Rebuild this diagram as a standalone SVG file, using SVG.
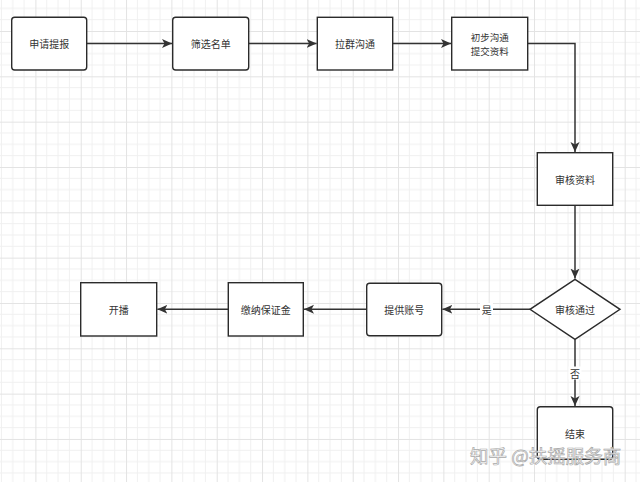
<svg xmlns="http://www.w3.org/2000/svg" width="640" height="482" viewBox="0 0 640 482">
<defs>
<pattern id="grid" patternUnits="userSpaceOnUse" x="35.4" y="31" width="45.33" height="45.33">
<path d="M11.33 0V45.33M22.67 0V45.33M34 0V45.33M0 11.33H45.33M0 22.67H45.33M0 34H45.33" stroke="#f0f0f0" stroke-width="1" fill="none"/>
<path d="M0.5 0V45.33M0 0.5H45.33" stroke="#e3e3e3" stroke-width="1" fill="none"/>
</pattern>
<marker id="arr" markerUnits="userSpaceOnUse" markerWidth="12" markerHeight="10" refX="10" refY="4.5" orient="auto">
<path d="M0,0 L10,4.5 L0,9 L2.5,4.5 Z" fill="#333"/>
</marker>
</defs>
<style>
.box{fill:#fff;stroke:#2b2b2b;stroke-width:1.4}
.t{font-family:"Noto Sans CJK SC","Noto Sans",sans-serif;font-size:10px;fill:#333;text-anchor:middle;dominant-baseline:central}
.t2{font-size:9.5px}
.c{fill:none;stroke:#333;stroke-width:1.5;marker-end:url(#arr)}
.lbl{font-family:"Noto Sans CJK SC","Noto Sans",sans-serif;font-size:10px;fill:#333;text-anchor:middle;dominant-baseline:central}
.wm{font-family:"Noto Sans CJK SC",sans-serif;font-size:18.5px;fill:#fff;stroke:#a8a8a8;stroke-width:0.7;fill-opacity:0.9}
</style>
<rect width="640" height="482" fill="#fff"/>
<rect width="640" height="482" fill="url(#grid)"/>
<g id="connectors">
<path class="c" d="M86.7 43.5H172"/>
<path class="c" d="M248.7 43.5H316.6"/>
<path class="c" d="M392.7 43.5H451"/>
<path class="c" d="M527.7 43.5H575V152"/>
<path class="c" d="M575 205.3V278.6"/>
<path class="c" d="M530 309.3H442.4"/>
<path class="c" d="M366.7 309.3H304"/>
<path class="c" d="M228.3 309.3H157.4"/>
<path class="c" d="M575 339.3V406"/>
<rect x="480" y="303" width="13" height="13" fill="#fff"/>
<text class="lbl" x="486.7" y="309.8">是</text>
<rect x="568.5" y="366.5" width="13" height="13" fill="#fff"/>
<text class="lbl" x="575" y="373">否</text>
</g>
<g id="n1"><rect class="box" x="11.7" y="17.3" width="75" height="52.7" rx="3"/><text class="t" x="49.2" y="43.6">申请提报</text></g>
<g id="n2"><rect class="box" x="172.7" y="17.3" width="76" height="52.7" rx="3"/><text class="t" x="210.7" y="43.6">筛选名单</text></g>
<g id="n3"><rect class="box" x="317.3" y="17.3" width="75.4" height="52.7"/><text class="t" x="355" y="43.6">拉群沟通</text></g>
<g id="n4"><rect class="box" x="451.7" y="17.3" width="76" height="52.7"/><text class="t t2" x="489.7" y="36.7">初步沟通</text><text class="t t2" x="489.7" y="50.5">提交资料</text></g>
<g id="n5"><rect class="box" x="537.3" y="152.7" width="75.4" height="52.6"/><text class="t" x="575" y="179">审核资料</text></g>
<g id="n6"><path class="box" d="M575 279.3L620 309.3L575 339.3L530 309.3Z"/><text class="t" x="575" y="309.6">审核通过</text></g>
<g id="n7"><rect class="box" x="366.7" y="283.3" width="75" height="52.4" rx="3"/><text class="t" x="404.2" y="309.6">提供账号</text></g>
<g id="n8"><rect class="box" x="228.3" y="282.7" width="75" height="53.3"/><text class="t" x="265.8" y="309.6">缴纳保证金</text></g>
<g id="n9"><rect class="box" x="80.7" y="282.7" width="76" height="53.3"/><text class="t" x="118.7" y="309.6">开播</text></g>
<g id="n10"><rect class="box" x="537.3" y="406.7" width="75.4" height="52.6" rx="3"/><text class="t" x="575" y="433">结束</text></g>
<text class="wm" x="470" y="463">知乎 @扶摇服务商</text>
</svg>
